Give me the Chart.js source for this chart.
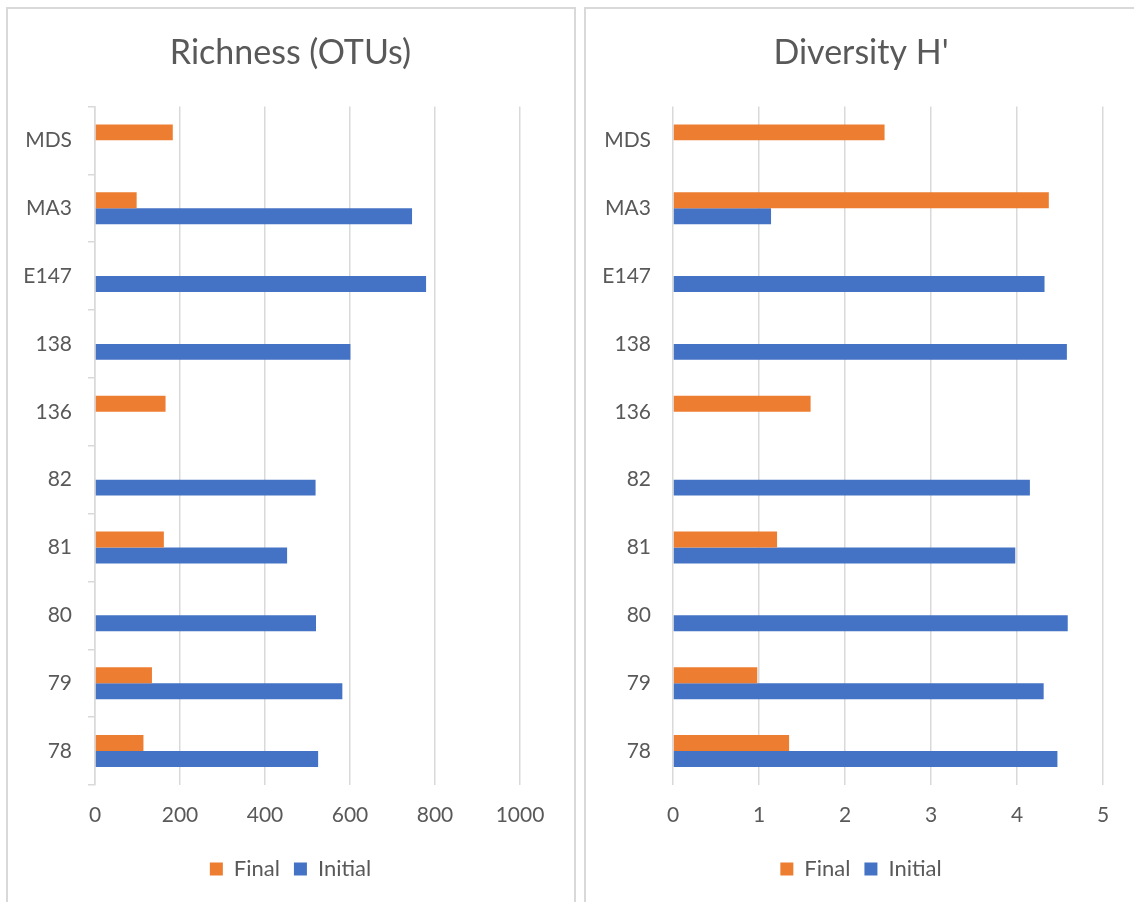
<!DOCTYPE html>
<html>
<head>
<meta charset="utf-8">
<title>Richness and Diversity</title>
<script src="https://cdn.jsdelivr.net/npm/chart.js@4.4.1/dist/chart.umd.min.js"></script>
<style>
    body {
        margin: 0;
        width: 1134px;
        height: 902px;
        overflow: hidden;
        background: #ffffff;
        position: relative;
    }
    .panel {
        position: absolute;
        box-sizing: border-box;
        border: 2px solid #d9d9d9;
        height: 1000px;
    }
    canvas {
        position: absolute;
    }
</style>
</head>
<body>
<div class="panel" style="left: 6px; top: 7px; width: 570px;"></div>
<div class="panel" style="left: 584px; top: 7px; width: 600px;"></div>
<canvas id="richnessChart" width="567" height="894" style="left: 7px; top: 8px;"></canvas>
<canvas id="diversityChart" width="552" height="894" style="left: 585px; top: 8px;"></canvas>
<script>
// samples, listed top to bottom
const categories = ['MDS', 'MA3', 'E147', '138', '136', '82', '81', '80', '79', '78'];

const richnessFinal = [183, 98, null, null, 166, null, 162, null, 134, 114];
const richnessInitial = [null, 746, 779, 601, null, 519, 452, 520, 582, 525];

const diversityFinal = [2.46, 4.37, null, null, 1.60, null, 1.21, null, 0.98, 1.35];
const diversityInitial = [null, 1.14, 4.32, 4.58, null, 4.15, 3.98, 4.59, 4.31, 4.47];

const richnessTicks = [0, 200, 400, 600, 800, 1000];
const diversityTicks = [0, 1, 2, 3, 4, 5];

Chart.defaults.font.family = 'Lato';
Chart.defaults.color = '#595959';

function drawPanel(canvasId, title, finalValues, initialValues, ticks, rightGap, tickMarks) {
    let ctx = document.getElementById(canvasId).getContext('2d');
    new Chart(ctx, {
        type: 'bar',
        data: {
            labels: categories,
            datasets: [{
                label: 'Final',
                data: finalValues,
                backgroundColor: '#ED7D31',
                categoryPercentage: 0.47,
                barPercentage: 1.0,
                xAxisID: 'x',
                yAxisID: 'y'
            }, {
                label: 'Initial',
                data: initialValues,
                backgroundColor: '#4472C4',
                categoryPercentage: 0.47,
                barPercentage: 1.0,
                xAxisID: 'x',
                yAxisID: 'y'
            }]
        },
        options: {
            indexAxis: 'y',
            responsive: false,
            animation: false,
            layout: {
                padding: { top: 0, right: 0, bottom: 12, left: 0 }
            },
            plugins: {
                title: {
                    display: true,
                    text: title,
                    color: '#595959',
                    font: { size: 34, weight: 'normal' },
                    padding: { top: 25, bottom: 32.6 }
                },
                legend: {
                    position: 'bottom',
                    labels: {
                        boxWidth: 13,
                        boxHeight: 13,
                        padding: 14,
                        color: '#595959',
                        font: { size: 22 }
                    }
                },
                tooltip: { enabled: false }
            },
            scales: {
                x: {
                    type: 'linear',
                    position: 'bottom',
                    min: ticks[0],
                    max: ticks[ticks.length - 1],
                    ticks: {
                        stepSize: ticks[1] - ticks[0],
                        padding: 18,
                        color: '#595959',
                        font: { size: 21 },
                        callback: function(value) { return String(value); }
                    },
                    grid: {
                        color: '#d9d9d9',
                        lineWidth: 1.5,
                        drawTicks: false
                    },
                    border: { display: false },
                    afterFit: function(scale) { scale.height = 59; }
                },
                y: {
                    type: 'category',
                    position: 'left',
                    ticks: {
                        padding: tickMarks ? 16 : 22,
                        color: '#595959',
                        font: { size: 21 }
                    },
                    grid: {
                        drawOnChartArea: false,
                        drawTicks: tickMarks,
                        tickLength: 7,
                        color: '#d9d9d9',
                        lineWidth: 1.5
                    },
                    border: { display: tickMarks, color: '#d9d9d9', width: 1.5 },
                    afterFit: function(scale) { scale.width = 88; }
                },
                // empty strip keeping the plot clear of the right edge
                side: {
                    type: 'linear',
                    position: 'right',
                    ticks: { display: false },
                    grid: { display: false },
                    border: { display: false },
                    afterFit: function(scale) { scale.width = rightGap; }
                }
            }
        }
    });
}

drawPanel('richnessChart', 'Richness (OTUs)', richnessFinal, richnessInitial, richnessTicks, 54, true);
drawPanel('diversityChart', "Diversity H'", diversityFinal, diversityInitial, diversityTicks, 34, false);
</script>
</body>
</html>
